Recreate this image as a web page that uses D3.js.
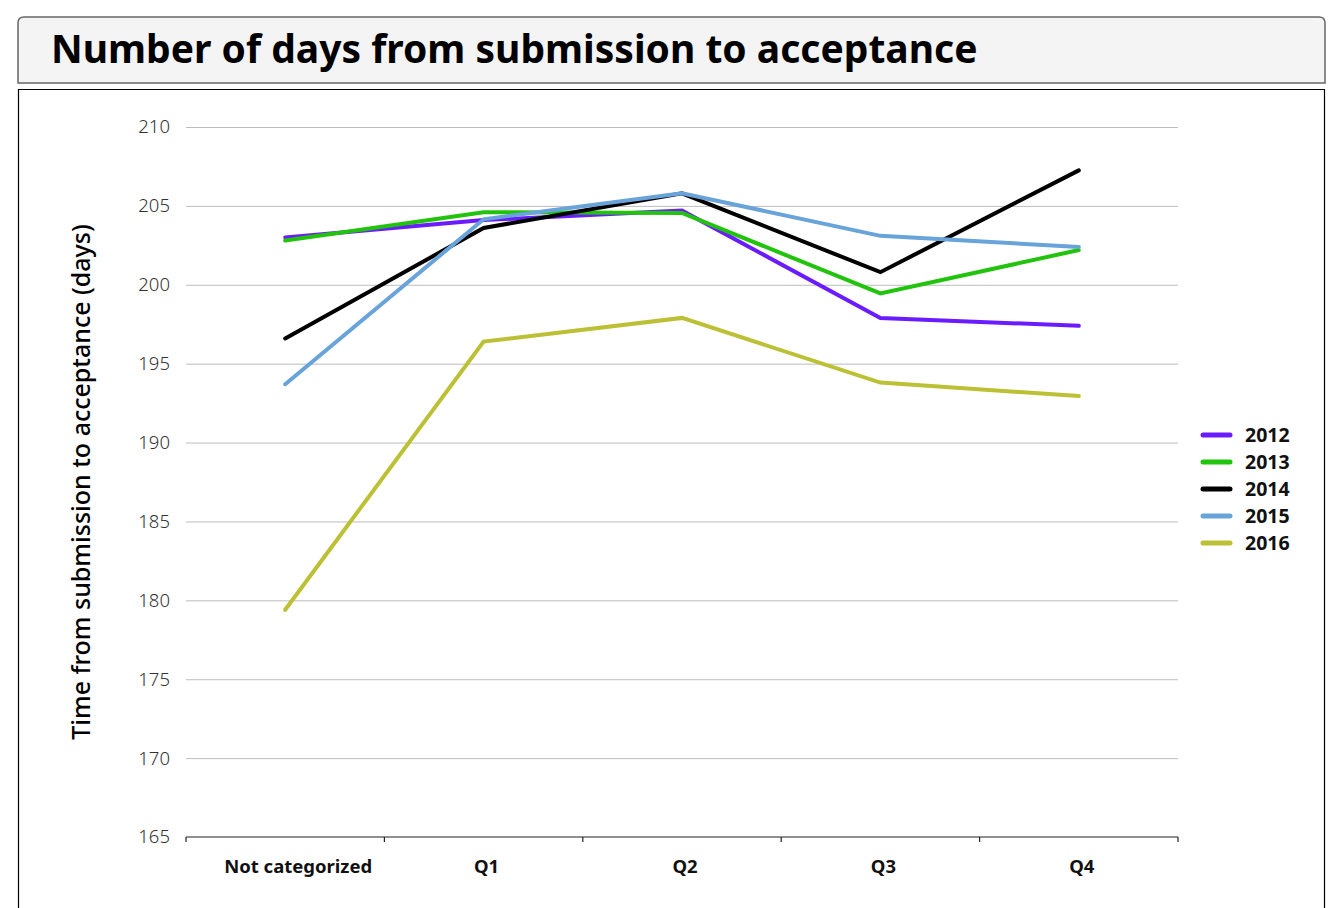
<!DOCTYPE html>
<html>
<head>
<meta charset="utf-8">
<script src="https://cdn.jsdelivr.net/npm/d3@7"></script>
<style>
  body { margin: 0; background: #fff; overflow: hidden; }
  svg { font-family: "Noto Sans", sans-serif; display: block; }
</style>
</head>
<body>
<svg id="chart" width="1333" height="908"></svg>
<script>
// data
const categories = ['Not categorized', 'Q1', 'Q2', 'Q3', 'Q4'];
const years = ['2012', '2013', '2014', '2015', '2016'];
const colors = ['#6b1cff', '#22c30c', '#000000', '#68a3d9', '#bcc035'];
const values2012 = [203.0, 204.1, 204.7, 197.9, 197.4];
const values2013 = [202.8, 204.6, 204.55, 199.45, 202.2];
const values2014 = [196.6, 203.6, 205.8, 200.8, 207.25];
const values2015 = [193.7, 204.15, 205.8, 203.1, 202.4];
const values2016 = [179.4, 196.4, 197.9, 193.8, 192.95];
const yTicks = [165, 170, 175, 180, 185, 190, 195, 200, 205, 210];

const series = years.map((y, i) => ({
  year: y,
  color: colors[i],
  values: [values2012, values2013, values2014, values2015, values2016][i]
}));

const svg = d3.select('#chart');

// title box with rounded top corners
const tb = { x: 18, y: 17, w: 1307, h: 66, r: 6 };
svg.append('path')
  .attr('d', `M${tb.x},${tb.y + tb.h} V${tb.y + tb.r} Q${tb.x},${tb.y} ${tb.x + tb.r},${tb.y}
              H${tb.x + tb.w - tb.r} Q${tb.x + tb.w},${tb.y} ${tb.x + tb.w},${tb.y + tb.r} V${tb.y + tb.h} Z`)
  .attr('fill', '#f4f4f4')
  .attr('stroke', '#666')
  .attr('stroke-width', 1.5);

svg.append('text')
  .attr('x', 51)
  .attr('y', 63)
  .attr('font-size', 39)
  .attr('font-weight', 'bold')
  .attr('fill', '#000')
  .text('Number of days from submission to acceptance');

// chart frame (runs off the bottom of the page)
svg.append('path')
  .attr('d', 'M18.5,908 V89.5 H1324.5 V908')
  .attr('fill', 'none')
  .attr('stroke', '#000')
  .attr('stroke-width', 1.2);

const margin = { left: 186, top: 127 };
const innerWidth = 992;
const innerHeight = 710;

const g = svg.append('g')
  .attr('transform', `translate(${margin.left},${margin.top})`);

const xScale = d3.scaleBand()
  .domain(categories)
  .range([0, innerWidth]);

const yScale = d3.scaleLinear()
  .domain([165, 210])
  .range([innerHeight, 0]);

// gridlines + y labels
const yAxis = d3.axisLeft(yScale)
  .tickValues(yTicks)
  .tickSize(-innerWidth)
  .tickPadding(16);

const yAxisG = g.append('g').attr('class', 'y-axis').call(yAxis);
yAxisG.select('.domain').remove();
yAxisG.selectAll('.tick line')
  .attr('stroke', '#bdbdbd')
  .attr('stroke-width', 1)
  .filter(d => d === 165).remove();
yAxisG.selectAll('.tick text')
  .attr('font-size', 18.5)
  .attr('font-weight', 300)
  .attr('fill', '#333')
  .attr('font-family', '"Noto Sans", sans-serif');

// x axis line with ticks at band boundaries
g.append('line')
  .attr('x1', 0).attr('x2', innerWidth)
  .attr('y1', innerHeight).attr('y2', innerHeight)
  .attr('stroke', '#222').attr('stroke-width', 1.2);

const boundaries = categories.map(c => xScale(c)).concat([innerWidth]);
g.selectAll('.x-tick').data(boundaries)
  .enter().append('line')
    .attr('class', 'x-tick')
    .attr('x1', d => d).attr('x2', d => d)
    .attr('y1', innerHeight).attr('y2', innerHeight + 5)
    .attr('stroke', '#222').attr('stroke-width', 1.2);

g.selectAll('.x-label').data(categories)
  .enter().append('text')
    .attr('class', 'x-label')
    .attr('x', d => xScale(d) + xScale.bandwidth() / 2 + 13)
    .attr('y', innerHeight + 36)
    .attr('text-anchor', 'middle')
    .attr('font-size', 18.5)
    .attr('font-weight', 'bold')
    .attr('fill', '#111')
    .text(d => d);
g.selectAll('.x-label').filter((d, i) => i > 0)
  .attr('x', d => xScale(d) + xScale.bandwidth() / 2 + 3);

// y axis title
svg.append('text')
  .attr('transform', 'translate(90,482) rotate(-90)')
  .attr('text-anchor', 'middle')
  .attr('font-size', 25)
  .attr('font-weight', 500)
  .attr('fill', '#000')
  .text('Time from submission to acceptance (days)');

// lines
const lineGenerator = d3.line()
  .x((d, i) => xScale(categories[i]) + xScale.bandwidth() / 2)
  .y(d => yScale(d));

g.selectAll('.series-line').data(series)
  .enter().append('path')
    .attr('class', 'series-line')
    .attr('fill', 'none')
    .attr('stroke', d => d.color)
    .attr('stroke-width', 4)
    .attr('stroke-linejoin', 'miter')
    .attr('stroke-linecap', 'round')
    .attr('d', d => lineGenerator(d.values));

// legend
const legend = svg.append('g').attr('transform', 'translate(1201,435)');
const items = legend.selectAll('.legend-item').data(series)
  .enter().append('g')
    .attr('class', 'legend-item')
    .attr('transform', (d, i) => `translate(0,${i * 27})`);
items.append('line')
  .attr('x1', 2).attr('x2', 29)
  .attr('stroke', d => d.color)
  .attr('stroke-width', 5)
  .attr('stroke-linecap', 'round');
items.append('text')
  .attr('x', 44)
  .attr('y', 7)
  .attr('font-size', 19.5)
  .attr('font-weight', 'bold')
  .attr('fill', '#111')
  .text(d => d.year);
</script>
</body>
</html>
